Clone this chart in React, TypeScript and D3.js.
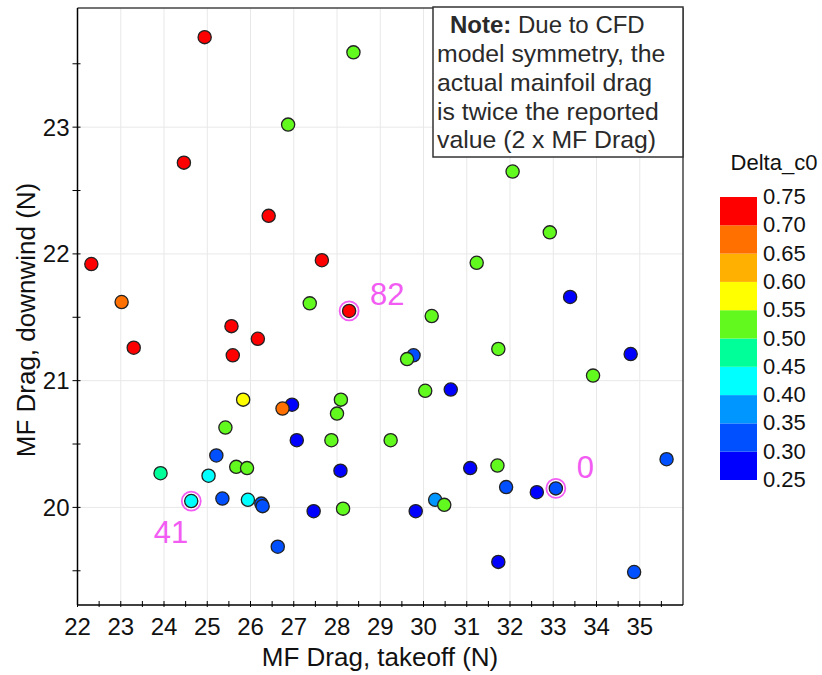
import * as d3 from 'd3';

// MF drag, takeoff (N)
const takeoff = [
  22.32, 24.94, 28.38, 26.87, 24.46, 26.42, 27.65, 23.02, 27.37, 28.28,
  25.56, 26.17, 23.30, 25.59, 29.77, 29.62, 30.04, 25.83, 26.96, 26.74,
  28.09, 28.00, 25.42, 27.07, 27.87, 29.24, 25.21, 23.92, 25.67, 25.92,
  25.03, 28.08, 24.63, 25.35, 25.94, 26.25, 26.28, 27.46, 28.14, 29.82,
  26.63, 32.06, 32.92, 31.23, 33.39, 30.19, 31.73, 34.79, 33.92, 30.63,
  35.62, 31.71, 31.08, 31.91, 32.62, 33.06, 30.27, 30.48, 31.73, 34.87,
];
// MF drag, downwind (N)
const downwind = [
  21.92, 23.71, 23.59, 23.02, 22.72, 22.30, 21.95, 21.62, 21.61, 21.55,
  21.43, 21.33, 21.26, 21.20, 21.20, 21.17, 20.92, 20.85, 20.81, 20.78,
  20.85, 20.74, 20.63, 20.53, 20.53, 20.53, 20.41, 20.27, 20.32, 20.31,
  20.25, 20.29, 20.05, 20.07, 20.06, 20.03, 20.01, 19.97, 19.99, 19.97,
  19.69, 22.65, 22.17, 21.93, 21.66, 21.51, 21.25, 21.21, 21.04, 20.93,
  20.38, 20.33, 20.31, 20.16, 20.12, 20.15, 20.06, 20.02, 19.57, 19.49,
];
// Delta_c0 of each design
const deltaC0 = [
  0.72, 0.72, 0.52, 0.52, 0.72, 0.72, 0.72, 0.68, 0.52, 0.72,
  0.72, 0.72, 0.72, 0.72, 0.32, 0.52, 0.52, 0.57, 0.27, 0.68,
  0.52, 0.52, 0.52, 0.27, 0.52, 0.52, 0.32, 0.47, 0.52, 0.52,
  0.42, 0.27, 0.42, 0.32, 0.42, 0.32, 0.32, 0.27, 0.52, 0.27,
  0.32, 0.52, 0.52, 0.52, 0.27, 0.52, 0.52, 0.27, 0.52, 0.27,
  0.32, 0.52, 0.27, 0.32, 0.27, 0.32, 0.37, 0.52, 0.27, 0.32,
];

// highlighted designs: point index and its id label
const highlightIndex = [9, 55, 32];
const highlightLabel = ['82', '0', '41'];

const legendTicks = [0.75, 0.7, 0.65, 0.6, 0.55, 0.5, 0.45, 0.4, 0.35, 0.3, 0.25];
const legendColors = [
  '#0000ff', '#0050ff', '#0096ff', '#00ffff', '#00ff99',
  '#62fa1e', '#ffff00', '#ffb000', '#ff7000', '#ff0000',
];

const noteLines = [
  'Due to CFD',
  'model symmetry, the',
  'actual mainfoil drag',
  'is twice the reported',
  'value (2 x MF Drag)',
];

const W = 822;
const H = 675;
const m = { left: 77.5, right: 683, top: 8, bottom: 605 };
const font = 'Liberation Sans, Arial, sans-serif';

export default function App() {
  const x = d3.scaleLinear().domain([22, 36]).range([m.left, m.right]);
  const y = d3.scaleLinear().domain([19.23, 23.94]).range([m.bottom, m.top]);

  const color = d3
    .scaleThreshold<number, string>()
    .domain([0.3, 0.35, 0.4, 0.45, 0.5, 0.55, 0.6, 0.65, 0.7])
    .range(legendColors);

  const xMajor = d3.range(22, 36);
  const xMinor = d3.range(22.5, 36, 1);
  const yMajor = d3.range(20, 24);
  const yMinor = d3.range(19.5, 24, 1);

  const lg = d3.scaleLinear().domain([0.75, 0.25]).range([197, 480]);

  const labelOffset = [
    { dx: 21, dy: -6, anchor: 'start' },
    { dx: 21, dy: -10, anchor: 'start' },
    { dx: -3, dy: 42, anchor: 'end' },
  ];

  return (
    <svg
      width={W}
      height={H}
      style={{ position: 'absolute', left: 0, top: 0, background: '#fff' }}
      fontFamily={font}
    >
      {/* grid */}
      {xMajor.slice(1).map((v) => (
        <line key={'gx' + v} x1={x(v)} x2={x(v)} y1={m.top} y2={m.bottom} stroke="#e8e8e8" />
      ))}
      {yMajor.map((v) => (
        <line key={'gy' + v} x1={m.left} x2={m.right} y1={y(v)} y2={y(v)} stroke="#e8e8e8" />
      ))}

      {/* frame */}
      <line x1={m.left} x2={m.right} y1={m.top} y2={m.top} stroke="#444" strokeWidth={1.5} />
      <line x1={m.right} x2={m.right} y1={m.top} y2={m.bottom} stroke="#444" strokeWidth={1.5} />
      <line x1={m.left} x2={m.left} y1={m.top} y2={m.bottom} stroke="#000" strokeWidth={1.5} />
      <line x1={m.left} x2={m.right} y1={m.bottom} y2={m.bottom} stroke="#000" strokeWidth={1.5} />

      {/* x ticks */}
      {[...xMajor, ...xMinor].map((v) => (
        <line key={'tx' + v} x1={x(v)} x2={x(v)} y1={m.bottom - 4} y2={m.bottom + 2} stroke="#000" />
      ))}
      {xMajor.map((v) => (
        <text key={'lx' + v} x={x(v)} y={635} textAnchor="middle" fontSize={24} fill="#111">
          {v}
        </text>
      ))}
      {/* y ticks */}
      {[...yMajor, ...yMinor].map((v) => (
        <line key={'ty' + v} x1={m.left - 5} x2={m.left + 3} y1={y(v)} y2={y(v)} stroke="#000" />
      ))}
      {yMajor.map((v) => (
        <text key={'ly' + v} x={m.left - 8} y={y(v) + 8.5} textAnchor="end" fontSize={24} fill="#111">
          {v}
        </text>
      ))}

      {/* axis titles */}
      <text x={380} y={666} textAnchor="middle" fontSize={26} fill="#111">
        MF Drag, takeoff (N)
      </text>
      <text transform="translate(35,320) rotate(-90)" textAnchor="middle" fontSize={26} fill="#111">
        MF Drag, downwind (N)
      </text>

      {/* points */}
      {takeoff.map((t, i) => (
        <circle
          key={'p' + i}
          cx={x(t)}
          cy={y(downwind[i])}
          r={6.6}
          fill={color(deltaC0[i])}
          stroke="#222"
          strokeWidth={1.3}
        />
      ))}

      {/* highlighted designs */}
      {highlightIndex.map((idx, k) => {
        const cx = x(takeoff[idx]);
        const cy = y(downwind[idx]);
        const o = labelOffset[k];
        return (
          <g key={'h' + k}>
            <circle cx={cx} cy={cy} r={9.5} fill="none" stroke="#f25cf2" strokeWidth={1.8} />
            <text x={cx + o.dx} y={cy + o.dy} textAnchor={o.anchor} fontSize={31} fill="#f25cf2">
              {highlightLabel[k]}
            </text>
          </g>
        );
      })}

      {/* note box */}
      <rect x={433} y={7} width={250} height={150} fill="#fff" stroke="#333" strokeWidth={1.5} />
      <text x={450} y={33} fontSize={24} fill="#2a2a2a">
        <tspan fontWeight="bold">Note:</tspan> {noteLines[0]}
      </text>
      {noteLines.slice(1).map((l, i) => (
        <text key={'n' + i} x={437} y={62 + i * 28.8} fontSize={24.8} fill="#2a2a2a">
          {l}
        </text>
      ))}

      {/* colour legend */}
      <text x={774} y={170} textAnchor="middle" fontSize={22} fill="#111">
        Delta_c0
      </text>
      {legendColors.map((c, i) => {
        const lo = 0.25 + i * 0.05;
        return (
          <rect key={'lb' + i} x={720} y={lg(lo + 0.05)} width={37} height={lg(lo) - lg(lo + 0.05)} fill={c} />
        );
      })}
      {legendTicks.map((v) => (
        <text key={'lt' + v} x={763} y={lg(v) + 7} fontSize={22} fill="#111">
          {v.toFixed(2)}
        </text>
      ))}
    </svg>
  );
}
